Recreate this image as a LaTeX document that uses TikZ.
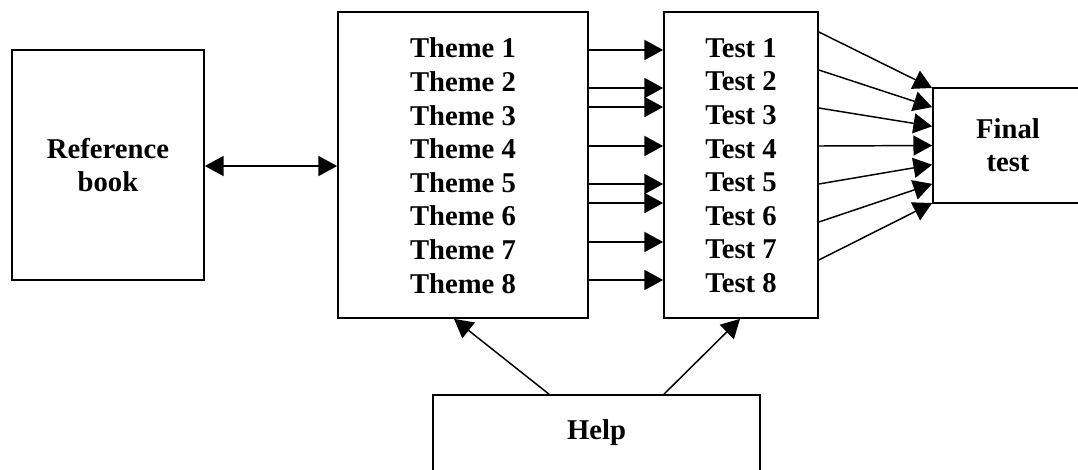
\documentclass[tikz,border=0pt]{standalone}
\usepackage{fontspec}
\setmainfont{Liberation Serif}
\usetikzlibrary{arrows.meta,calc}
\begin{document}
\begin{tikzpicture}[x=0.75pt,y=-0.75pt,
  box/.style={draw,line width=1.3pt,inner sep=0pt,align=center,font=\fontsize{21.5}{24.5}\selectfont\bfseries},
  lbl/.style={inner sep=0pt,font=\fontsize{21.5}{26}\selectfont\bfseries},
  arr/.style={line width=1.1pt,-{Triangle[length=14pt,width=15pt]}},
  darr/.style={line width=1.1pt,{Triangle[length=14pt,width=15pt]}-{Triangle[length=14pt,width=15pt]}}]
\useasboundingbox (0,0) rectangle (1078,469);
\fill[white] (0,0) rectangle (1078,469);
% boxes
\node[box,minimum width=144pt,minimum height=172.5pt] (ref) at (108,165) {Reference\\book};
\node[box,minimum width=187.5pt,minimum height=229.5pt] (theme) at (463,165) {};
\node[box,minimum width=115.5pt,minimum height=229.5pt] (test) at (741,165) {};
\node[box,minimum width=112.5pt,minimum height=86.25pt] (final) at (1008,145.5) {Final\\test};
\node[box,minimum width=245.25pt,minimum height=57pt] (help) at (596.5,433) {Help};
% labels
\foreach \i in {1,...,8}{
  \node[lbl] (th\i) at (463,{48+33.6*(\i-1)}) {Theme \i};
  \node[lbl] (ts\i) at (741,{48+33.6*(\i-1)}) {Test \i};
}
% reference <-> theme
\draw[darr] (ref.east |- 0,166) -- (theme.west |- 0,166);
% theme -> test
\foreach \y in {50,88,107,146,184,203,242,280}{
  \draw[arr] (theme.east |- 0,\y) -- (test.west |- 0,\y);
}
% test -> final
\foreach \i in {1,...,7}{
  \draw[arr] (test.east |- 0,{32+38*(\i-1)}) -- (final.west |- 0,{88+19.17*(\i-1)});
}
% help arrows
\draw[arr] (help.north -| 549,0) -- (theme.south -| 454,0);
\draw[arr] (help.north -| 664,0) -- (test.south -| 740,0);
\end{tikzpicture}
\end{document}
